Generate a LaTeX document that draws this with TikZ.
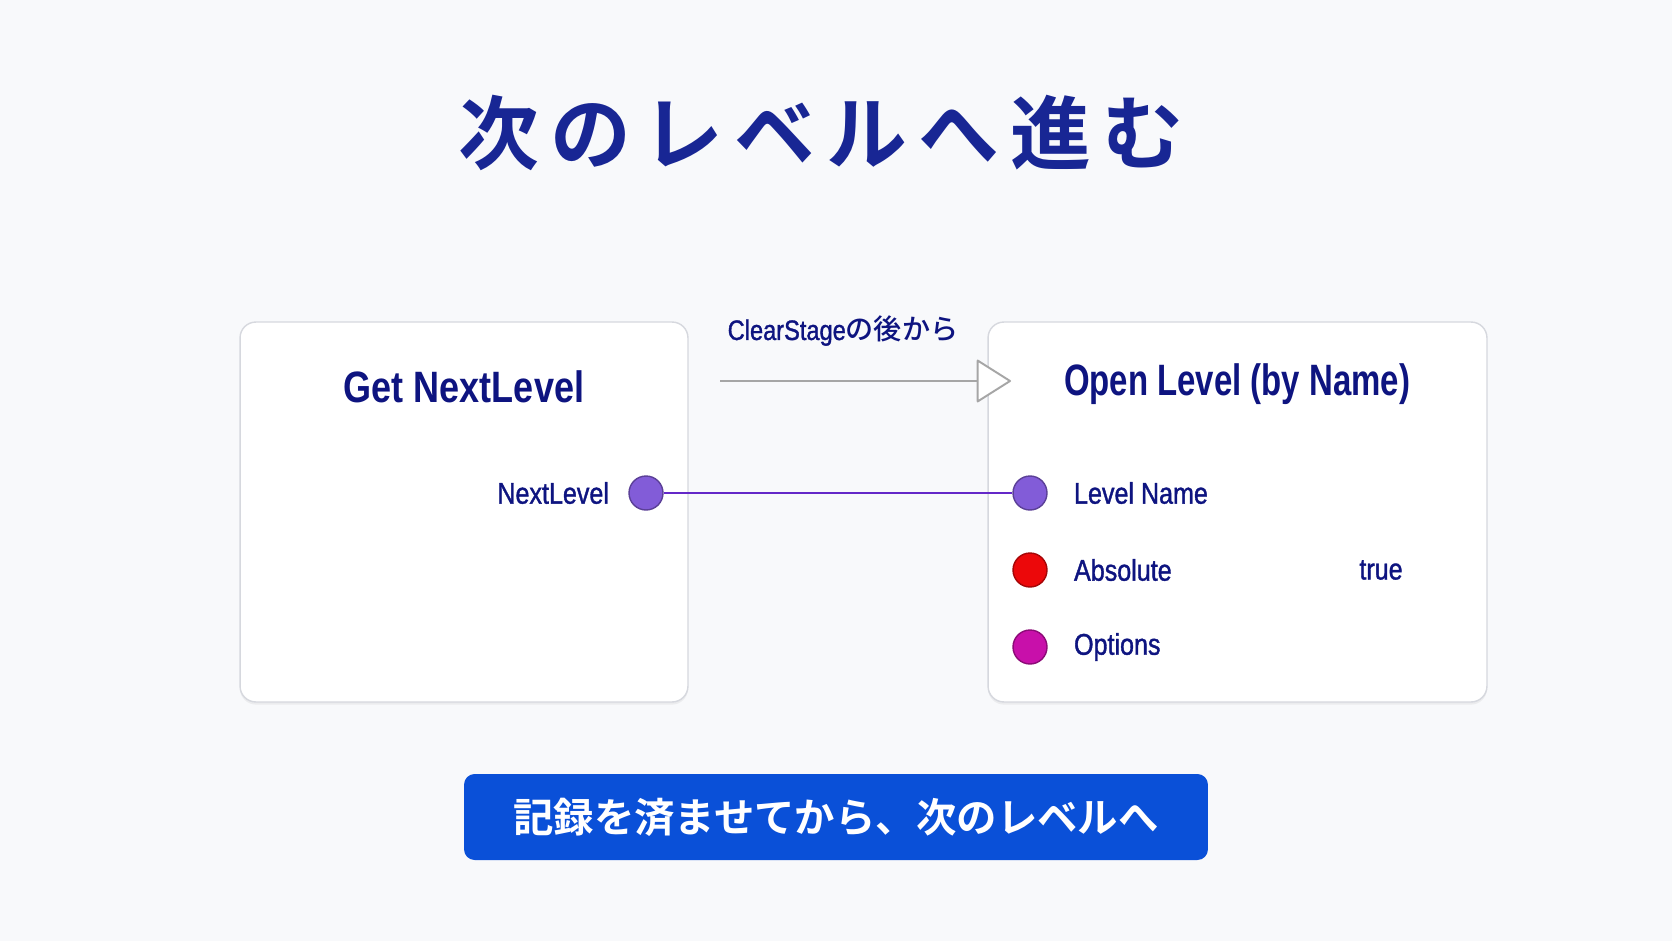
\documentclass[tikz,border=0pt]{standalone}
\usepackage{fontspec}
\setmainfont{Liberation Sans}[FakeStretch=0.82]
\newfontfamily\labelsans{Liberation Sans}[FakeStretch=0.84, FakeBold=1.2]
\newfontfamily\narrowsans{Liberation Sans}[FakeStretch=0.75]
\newfontfamily\cjk{Noto Sans CJK JP}[BoldFont={Noto Sans CJK JP Bold}]
\newfontfamily\cjkmed{Noto Sans CJK JP Medium}
\usetikzlibrary{arrows.meta,positioning,shadows}

\definecolor{bgc}{RGB}{248,249,251}
\definecolor{navy}{RGB}{24,38,148}
\definecolor{ink}{RGB}{14,20,128}
\definecolor{boxline}{RGB}{214,216,222}
\definecolor{btnblue}{RGB}{10,80,216}
\definecolor{wirepurple}{RGB}{100,40,200}
\definecolor{portpurple}{RGB}{130,92,216}
\definecolor{portred}{RGB}{236,8,10}
\definecolor{portmag}{RGB}{200,16,170}

\tikzset{
  panel/.style={draw=boxline, line width=0.8pt, fill=white, rounded corners=9pt,
    drop shadow={shadow xshift=0pt, shadow yshift=-1.5pt, opacity=0.10}},
  paneltitle/.style={text=ink, font=\bfseries\fontsize{25}{30}\selectfont, inner sep=0pt},
  pin/.style={circle, draw=#1!70!black, fill=#1, line width=0.8pt, minimum size=0.68cm, inner sep=0pt},
  pinlabel/.style={text=ink, font=\labelsans\fontsize{17}{20}\selectfont, inner sep=0pt},
  wire/.style={draw=wirepurple, line width=1.4pt},
  flow/.style={draw=gray!70, line width=1.1pt, line join=round, -{Triangle[length=20pt, width=25pt, fill=white, round]}},
}

\begin{document}
\begin{tikzpicture}[x=0.02cm,y=0.02cm]

\def\width{1672}
\def\height{941}

\path [use as bounding box, fill=bgc] (0,0) rectangle (\width,\height);

% TITLE
\node (heading) at (821,808) {\cjk\bfseries\fontsize{46}{50}\selectfont\color{navy}\addfontfeature{LetterSpace=14}次のレベルへ進む};

% BOXES
\node [panel, minimum width=8.96cm, minimum height=7.6cm] (getbox) at (464,429) {};
\node [panel, minimum width=9.98cm, minimum height=7.6cm] (openbox) at (1237.5,429) {};
\node [paneltitle] (gettitle) at (464,554) {Get NextLevel};
\node [paneltitle, font=\narrowsans\bfseries\fontsize{25}{30}\selectfont] (opentitle) at (1237,557) {Open Level (by Name)};

% EXEC
\coordinate (flowstart) at (720,560);
\coordinate (flowend) at (1011,560);
\draw [flow] (flowstart) -- (flowend);
\node [text=ink, inner sep=0pt, font=\labelsans\fontsize{16}{19}\selectfont] (flowlabel) at (843,610) {ClearStage{\cjkmed の後から}};

% PORTS
\node [pin=portpurple] (outport) at (646,448) {};
\node [pinlabel, left=0.38cm of outport] (outlabel) {NextLevel};
\node [pin=portpurple] (nameport) at (1030,448) {};
\node [pin=portred] (absport) at (1030,371) {};
\node [pin=portmag] (optport) at (1030,294) {};
\node [pinlabel, right=0.52cm of nameport] (namelabel) {Level Name};
\node [pinlabel, right=0.52cm of absport] (abslabel) {Absolute};
\node [pinlabel, right=0.52cm of optport] (optlabel) {Options};
\node [pinlabel] (absvalue) at (1381,371) {true};

% WIRE
\draw [wire] (outport) -- (nameport);

% NOTE
\node [fill=btnblue, rounded corners=6pt, minimum width=14.88cm, minimum height=1.72cm] (note) at (836,124)
  {\cjk\bfseries\fontsize{23}{26}\selectfont\color{white}記録を済ませてから、次のレベルへ};

\end{tikzpicture}
\end{document}
